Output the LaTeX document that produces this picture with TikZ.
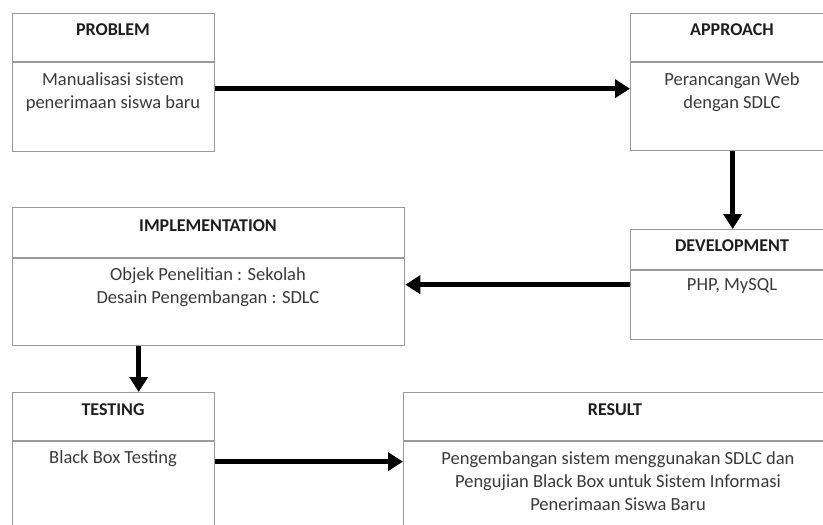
\documentclass[tikz,border=0pt]{standalone}
\usepackage{fontspec}
\setmainfont{Carlito}
\usetikzlibrary{arrows.meta}
\definecolor{boxgray}{HTML}{9A9A9A}
\definecolor{titlec}{HTML}{1E1E1E}
\definecolor{bodyc}{HTML}{3A3A3A}
\begin{document}
\begin{tikzpicture}[x=1pt,y=-1pt,
  box/.style={draw=boxgray, line width=1.3pt, anchor=north west, inner sep=0pt, minimum width=#1},
  divider/.style={draw=boxgray, line width=1.3pt},
  ttl/.style={anchor=base, inner sep=0pt, font=\fontsize{18}{20}\selectfont\bfseries, text=titlec},
  bod/.style={anchor=base, inner sep=0pt, font=\fontsize{18.5}{23}\selectfont, text=bodyc, align=center},
  arr/.style={line width=5.2pt, -{Triangle[length=15pt,width=18pt]}}]
\useasboundingbox (0,0) rectangle (823,525);
\clip (0,0) rectangle (823,525);

% boxes
\node[box=202pt, minimum height=138pt] (problem) at (12,13) {};
\node[box=204pt, minimum height=137pt] (approach) at (630,13) {};
\node[box=392pt, minimum height=138pt] (impl) at (12,207) {};
\node[box=204pt, minimum height=110pt] (dev) at (630,229) {};
\node[box=202pt, minimum height=138pt] (testing) at (12,392) {};
\node[box=425pt, minimum height=138pt] (result) at (403,392) {};

% dividers
\draw[divider] ([yshift=-49pt]problem.north west) -- ([yshift=-49pt]problem.north east);
\draw[divider] ([yshift=-49pt]approach.north west) -- ([yshift=-49pt]approach.north east);
\draw[divider] ([yshift=-51pt]impl.north west) -- ([yshift=-51pt]impl.north east);
\draw[divider] ([yshift=-41pt]dev.north west) -- ([yshift=-41pt]dev.north east);
\draw[divider] ([yshift=-49pt]testing.north west) -- ([yshift=-49pt]testing.north east);
\draw[divider] ([yshift=-49pt]result.north west) -- ([yshift=-49pt]result.north east);

% titles
\node[ttl] (tproblem) at (113,35) {PROBLEM};
\node[ttl] (tapproach) at (732,35) {APPROACH};
\node[ttl] (timpl) at (208,231) {IMPLEMENTATION};
\node[ttl] (tdev) at (732,251) {DEVELOPMENT};
\node[ttl] (ttesting) at (113,415) {TESTING};
\node[ttl] (tresult) at (615,415) {RESULT};

% bodies (anchor base = baseline of the last line)
\node[bod] (bproblem) at (113,108) {Manualisasi sistem\\penerimaan siswa baru};
\node[bod] (bapproach) at (732,108) {Perancangan Web\\dengan SDLC};
\node[bod] (bimpl) at (208,303) {Objek Penelitian : Sekolah\\Desain Pengembangan : SDLC};
\node[bod] (bdev) at (732,290) {PHP, MySQL};
\node[bod] (btesting) at (113,463) {Black Box Testing};
\node[bod] (bresult) at (618,510) {Pengembangan sistem menggunakan SDLC dan\\Pengujian Black Box untuk Sistem Informasi\\Penerimaan Siswa Baru};

% connectors
\draw[arr] ([yshift=-6pt]problem.east) -- ([yshift=-6pt]problem.east -| approach.west);
\draw[arr] (approach.south) -- (dev.north);
\draw[arr] (dev.west) -- (dev.west -| impl.east);
\draw[arr] ([xshift=-70pt]impl.south) -- ([xshift=-70pt]impl.south |- testing.north);
\draw[arr] (testing.east) -- (testing.east -| result.west);
\end{tikzpicture}
\end{document}
